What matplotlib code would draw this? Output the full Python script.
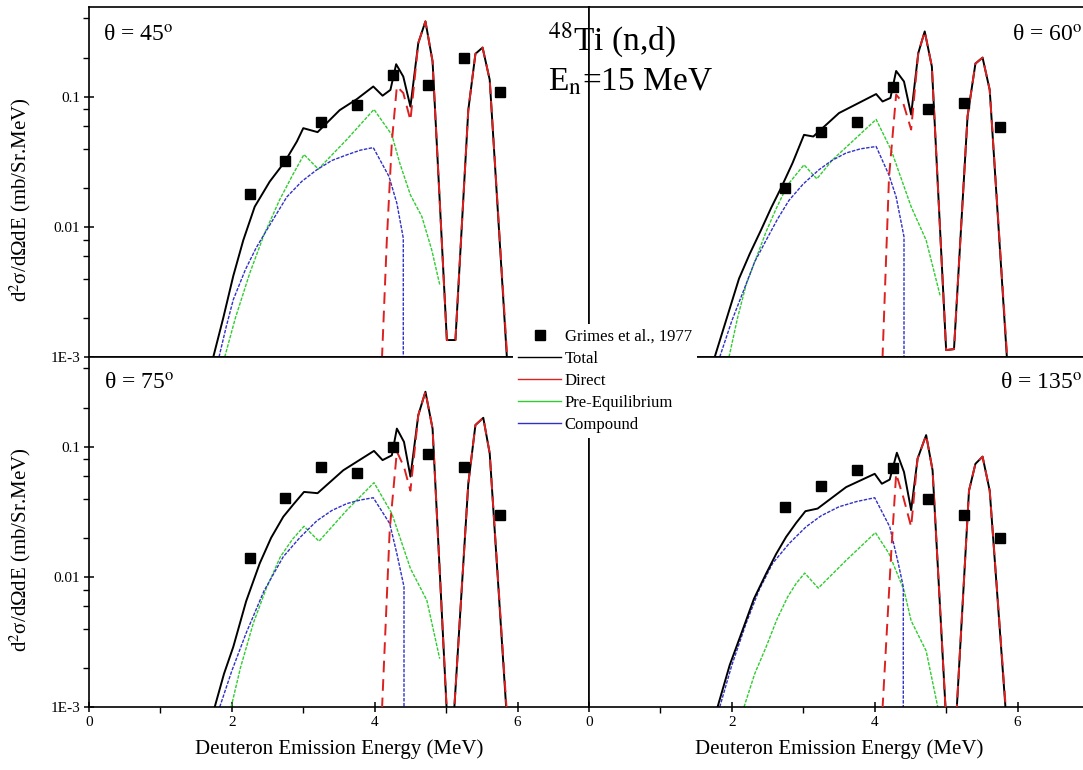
import matplotlib
matplotlib.use("Agg")
import matplotlib.pyplot as plt
from matplotlib.lines import Line2D
from matplotlib.ticker import FixedLocator, FixedFormatter, LogLocator, NullFormatter

plt.rcParams['font.family'] = ['Liberation Serif', 'DejaVu Serif']
plt.rcParams['mathtext.fontset'] = 'stix'

# ---------------- data ----------------
angles = [45, 60, 75, 135]

# 45 degrees
exp_e_45 = [2.25, 2.75, 3.25, 3.75, 4.25, 4.75, 5.25, 5.75]
exp_y_45 = [0.018, 0.032, 0.064, 0.087, 0.148, 0.123, 0.200, 0.109]
tot_e_45 = [1.74, 1.88, 2.02, 2.16, 2.32, 2.53, 2.74, 2.91, 3.00, 3.20, 3.51, 3.75, 3.98, 4.11, 4.22,
            4.30, 4.40, 4.50, 4.61, 4.71, 4.81, 5.01, 5.13, 5.31, 5.41, 5.51, 5.61, 5.85]
tot_y_45 = [1.0e-3, 0.0020, 0.0042, 0.0079, 0.0143, 0.0223, 0.0316, 0.0453, 0.0574, 0.0535, 0.079,
            0.096, 0.120, 0.102, 0.113, 0.178, 0.143, 0.084, 0.259, 0.380, 0.187, 0.00135, 0.00135,
            0.079, 0.214, 0.239, 0.135, 1.0e-3]
dir_e_45 = [4.08, 4.17, 4.24, 4.31, 4.40, 4.50, 4.61, 4.71, 4.81, 5.01, 5.13, 5.31, 5.41, 5.51, 5.61, 5.86]
dir_y_45 = [5e-4, 0.008, 0.045, 0.120, 0.107, 0.066, 0.259, 0.380, 0.187, 0.00135, 0.00135, 0.079,
            0.214, 0.239, 0.135, 9e-4]
peq_e_45 = [1.90, 2.05, 2.25, 2.45, 2.67, 2.85, 3.01, 3.21, 3.61, 3.99, 4.24, 4.35, 4.50, 4.66, 4.80, 4.91]
peq_y_45 = [1e-3, 0.0020, 0.0044, 0.0087, 0.0162, 0.025, 0.036, 0.0278, 0.047, 0.080, 0.051, 0.031,
            0.0176, 0.012, 0.0066, 0.0036]
cmp_e_45 = [1.82, 1.92, 2.02, 2.19, 2.34, 2.49, 2.77, 2.98, 3.19, 3.40, 3.61, 3.80, 3.98, 4.20, 4.31,
            4.40, 4.40]
cmp_y_45 = [1e-3, 0.0017, 0.00276, 0.0047, 0.0069, 0.0095, 0.017, 0.0224, 0.0275, 0.0324, 0.0358,
            0.0389, 0.0407, 0.0244, 0.0152, 0.0082, 4e-4]

# 60 degrees
exp_e_60 = [2.75, 3.25, 3.75, 4.25, 4.75, 5.25, 5.75]
exp_y_60 = [0.020, 0.054, 0.064, 0.119, 0.080, 0.089, 0.059]
tot_e_60 = [1.76, 1.93, 2.10, 2.25, 2.41, 2.55, 2.69, 2.85, 3.01, 3.14, 3.50, 4.02, 4.11, 4.22, 4.30,
            4.41, 4.51, 4.61, 4.70, 4.80, 5.00, 5.11, 5.30, 5.41, 5.51, 5.61, 5.85]
tot_y_60 = [1e-3, 0.0020, 0.0040, 0.0062, 0.0095, 0.014, 0.020, 0.031, 0.051, 0.0495, 0.075, 0.105,
            0.092, 0.098, 0.158, 0.131, 0.073, 0.217, 0.318, 0.171, 0.00113, 0.00115, 0.071, 0.180,
            0.200, 0.113, 1e-3]
dir_e_60 = [4.09, 4.20, 4.30, 4.40, 4.51, 4.61, 4.70, 4.80, 5.00, 5.11, 5.30, 5.41, 5.51, 5.61, 5.86]
dir_y_60 = [5e-4, 0.024, 0.104, 0.089, 0.056, 0.217, 0.318, 0.171, 0.00113, 0.00115, 0.071, 0.180,
            0.200, 0.113, 9e-4]
peq_e_60 = [1.96, 2.08, 2.20, 2.48, 2.62, 2.78, 3.01, 3.19, 3.41, 4.02, 4.23, 4.51, 4.72, 4.92]
peq_y_60 = [1e-3, 0.0020, 0.0036, 0.0092, 0.0138, 0.021, 0.030, 0.0234, 0.0328, 0.067, 0.039, 0.0143,
            0.0079, 0.0029]
cmp_e_60 = [1.83, 2.00, 2.17, 2.32, 2.48, 2.64, 2.80, 3.00, 3.22, 3.40, 3.60, 3.80, 4.02, 4.20, 4.30,
            4.41, 4.41]
cmp_y_60 = [1e-3, 0.0019, 0.0033, 0.0054, 0.0079, 0.0115, 0.016, 0.0214, 0.0275, 0.0324, 0.037,
            0.0398, 0.0415, 0.025, 0.017, 0.0084, 4e-4]

# 75 degrees
exp_e_75 = [2.25, 2.75, 3.25, 3.75, 4.25, 4.75, 5.25, 5.75]
exp_y_75 = [0.0139, 0.0407, 0.070, 0.063, 0.099, 0.088, 0.070, 0.0298]
tot_e_75 = [1.76, 1.89, 2.02, 2.20, 2.39, 2.55, 2.72, 2.86, 3.01, 3.20, 3.56, 3.99, 4.11, 4.24, 4.31,
            4.41, 4.50, 4.61, 4.71, 4.81, 5.01, 5.11, 5.31, 5.41, 5.52, 5.61, 5.84]
tot_y_75 = [1e-3, 0.0018, 0.0029, 0.0065, 0.0127, 0.020, 0.029, 0.036, 0.045, 0.044, 0.066, 0.093,
            0.079, 0.086, 0.138, 0.109, 0.059, 0.175, 0.265, 0.138, 9e-4, 9e-4, 0.052, 0.147, 0.167,
            0.089, 1e-3]
dir_e_75 = [4.08, 4.21, 4.31, 4.41, 4.50, 4.61, 4.71, 4.81, 5.01, 5.11, 5.31, 5.41, 5.52, 5.61, 5.85]
dir_y_75 = [5e-4, 0.023, 0.092, 0.070, 0.046, 0.175, 0.265, 0.138, 9e-4, 9e-4, 0.052, 0.147, 0.167,
            0.089, 9e-4]
peq_e_75 = [1.99, 2.12, 2.30, 2.48, 2.68, 2.85, 3.01, 3.22, 3.61, 3.99, 4.24, 4.50, 4.73, 4.91]
peq_y_75 = [1e-3, 0.0020, 0.0044, 0.0081, 0.0143, 0.0195, 0.0245, 0.0188, 0.0326, 0.053, 0.0307,
            0.0116, 0.0066, 0.00235]
cmp_e_75 = [1.83, 2.00, 2.20, 2.45, 2.72, 2.95, 3.19, 3.40, 3.61, 3.80, 3.98, 4.21, 4.31, 4.41, 4.41]
cmp_y_75 = [1e-3, 0.0019, 0.0037, 0.0078, 0.0143, 0.020, 0.027, 0.0324, 0.0366, 0.039, 0.0406,
            0.0257, 0.0151, 0.0084, 4e-4]

# 135 degrees
exp_e_135 = [2.75, 3.25, 3.75, 4.25, 4.75, 5.25, 5.75]
exp_y_135 = [0.0346, 0.050, 0.066, 0.069, 0.040, 0.0298, 0.020]
tot_e_135 = [1.80, 1.97, 2.15, 2.31, 2.48, 2.62, 2.76, 2.90, 3.03, 3.20, 3.60, 4.00, 4.10, 4.21, 4.31,
             4.41, 4.51, 4.60, 4.72, 4.81, 5.00, 5.14, 5.32, 5.41, 5.51, 5.61, 5.83]
tot_y_135 = [1e-3, 0.0021, 0.0039, 0.0068, 0.0106, 0.015, 0.0203, 0.026, 0.032, 0.0335, 0.049, 0.062,
             0.052, 0.056, 0.090, 0.064, 0.0326, 0.081, 0.123, 0.066, 8e-4, 8e-4, 0.046, 0.074,
             0.084, 0.046, 1e-3]
dir_e_135 = [4.08, 4.23, 4.30, 4.40, 4.51, 4.60, 4.72, 4.81, 5.00, 5.14, 5.32, 5.41, 5.51, 5.61, 5.84]
dir_y_135 = [5e-4, 0.015, 0.062, 0.041, 0.0243, 0.081, 0.123, 0.066, 8e-4, 8e-4, 0.046, 0.074, 0.084,
             0.046, 9e-4]
peq_e_135 = [2.17, 2.32, 2.48, 2.63, 2.78, 2.90, 3.02, 3.21, 3.60, 4.01, 4.20, 4.41, 4.51, 4.72, 4.90]
peq_y_135 = [1e-3, 0.0018, 0.0029, 0.0047, 0.0070, 0.0089, 0.0107, 0.0082, 0.0134, 0.0219, 0.0151,
             0.0079, 0.0046, 0.0027, 9e-4]
cmp_e_135 = [1.83, 2.00, 2.20, 2.38, 2.57, 2.80, 3.04, 3.25, 3.50, 3.75, 4.00, 4.21, 4.33, 4.40, 4.40]
cmp_y_135 = [1e-3, 0.0021, 0.0044, 0.0079, 0.0127, 0.018, 0.0243, 0.0295, 0.0346, 0.038, 0.0406,
             0.0243, 0.0127, 0.0084, 4e-4]

x_ticks = [0, 2, 4, 6]
x_tick_labels = ['0', '2', '4', '6']
x_minor_ticks = [1, 3, 5]
y_ticks = [1e-3, 1e-2, 1e-1]
y_tick_labels = ['1E-3', '0.01', '0.1']

series_labels = ['Grimes et al., 1977', 'Total', 'Direct', 'Pre-Equilibrium', 'Compound']

# ---------------- styling ----------------
C_TOT = '#000000'
C_DIR = '#dd2020'
C_PEQ = '#30cc30'
C_CMP = '#3030c8'

W, H = 1083, 770
fig = plt.figure(figsize=(W / 100, H / 100), dpi=100)

pw, ph = 500 / W, 350 / H
lx, rx = 89 / W, 589 / W
ty, by = 1 - 357 / H, 1 - 707 / H

panels = [
    dict(pos=(lx, ty), ang=angles[0], exp=(exp_e_45, exp_y_45), tot=(tot_e_45, tot_y_45),
         dr=(dir_e_45, dir_y_45), peq=(peq_e_45, peq_y_45), cmp=(cmp_e_45, cmp_y_45),
         lab=(0.028, 0.917), left=True, bottom=False),
    dict(pos=(rx, ty), ang=angles[1], exp=(exp_e_60, exp_y_60), tot=(tot_e_60, tot_y_60),
         dr=(dir_e_60, dir_y_60), peq=(peq_e_60, peq_y_60), cmp=(cmp_e_60, cmp_y_60),
         lab=(0.846, 0.917), left=False, bottom=False),
    dict(pos=(lx, by), ang=angles[2], exp=(exp_e_75, exp_y_75), tot=(tot_e_75, tot_y_75),
         dr=(dir_e_75, dir_y_75), peq=(peq_e_75, peq_y_75), cmp=(cmp_e_75, cmp_y_75),
         lab=(0.030, 0.922), left=True, bottom=True),
    dict(pos=(rx, by), ang=angles[3], exp=(exp_e_135, exp_y_135), tot=(tot_e_135, tot_y_135),
         dr=(dir_e_135, dir_y_135), peq=(peq_e_135, peq_y_135), cmp=(cmp_e_135, cmp_y_135),
         lab=(0.822, 0.922), left=False, bottom=True),
]

for p in panels:
    ax = fig.add_axes([p['pos'][0], p['pos'][1], pw, ph])
    ax.set_yscale('log')
    ax.set_xlim(0, 7)
    ax.set_ylim(1e-3, 0.49)

    ax.plot(*p['tot'], color=C_TOT, lw=1.4, zorder=3)
    ax.plot(*p['dr'], color=C_DIR, lw=1.4, dashes=(6, 3.5), zorder=4)
    ax.plot(*p['peq'], color=C_PEQ, lw=1.0, dashes=(2.5, 1.0), zorder=2)
    ax.plot(*p['cmp'], color=C_CMP, lw=1.0, dashes=(2.5, 1.0), zorder=2)
    ax.plot(*p['exp'], linestyle='none', marker='s', ms=6.5, color='black', zorder=5)

    ax.text(p['lab'][0], p['lab'][1], 'θ = %d$^{\\rm o}$' % p['ang'],
            transform=ax.transAxes, fontsize=17, ha='left', va='center')

    for s in ax.spines.values():
        s.set_linewidth(1.2)

    ax.xaxis.set_major_locator(FixedLocator(x_ticks))
    ax.xaxis.set_minor_locator(FixedLocator(x_minor_ticks))
    ax.yaxis.set_major_locator(FixedLocator(y_ticks))
    ax.yaxis.set_minor_locator(LogLocator(base=10, subs=(2, 4, 6, 8)))
    ax.yaxis.set_minor_formatter(NullFormatter())

    if p['bottom']:
        ax.xaxis.set_major_formatter(FixedFormatter(x_tick_labels))
        ax.tick_params(axis='x', which='major', direction='inout', length=7, width=1.1,
                       labelsize=11, pad=3)
        ax.tick_params(axis='x', which='minor', direction='out', length=4, width=1.0)
        ax.set_xlabel('Deuteron Emission Energy (MeV)', fontsize=15)
        ax.xaxis.set_label_coords(0.5, -0.092)
    else:
        ax.tick_params(axis='x', which='both', bottom=False, labelbottom=False)

    if p['left']:
        ax.yaxis.set_major_formatter(FixedFormatter(y_tick_labels))
        ax.tick_params(axis='y', which='major', direction='inout', length=7, width=1.1,
                       labelsize=11, pad=3)
        ax.tick_params(axis='y', which='minor', direction='out', length=4, width=1.0)
        ax.set_ylabel('d$^{2}$σ/dΩdE (mb/Sr.MeV)', fontsize=15)
        ax.yaxis.set_label_coords(-0.112, 0.45)
    else:
        ax.tick_params(axis='y', which='both', left=False, labelleft=False)

# title block
fig.text(548 / W, 1 - 40 / H, r'$^{48}$Ti (n,d)', fontsize=24, ha='left', va='center')
fig.text(548 / W, 1 - 82 / H, r'E$_{\rm n}$=15 MeV', fontsize=24, ha='left', va='center')

# legend
handles = [
    Line2D([], [], linestyle='none', marker='s', ms=6.5, color='black'),
    Line2D([], [], color=C_TOT, lw=1.0),
    Line2D([], [], color=C_DIR, lw=1.0),
    Line2D([], [], color=C_PEQ, lw=1.0),
    Line2D([], [], color=C_CMP, lw=1.0),
]
leg = fig.legend(handles, series_labels, loc='upper left', bbox_to_anchor=(513 / W, 1 - 324 / H),
                 bbox_transform=fig.transFigure, borderaxespad=0, borderpad=0.3,
                 fontsize=12, handlelength=2.6, handletextpad=0.2, labelspacing=0.36,
                 frameon=True, fancybox=False)
leg.get_frame().set_facecolor('white')
leg.get_frame().set_edgecolor('none')
leg.get_frame().set_alpha(1.0)

fig.savefig('out.png', dpi=100)
